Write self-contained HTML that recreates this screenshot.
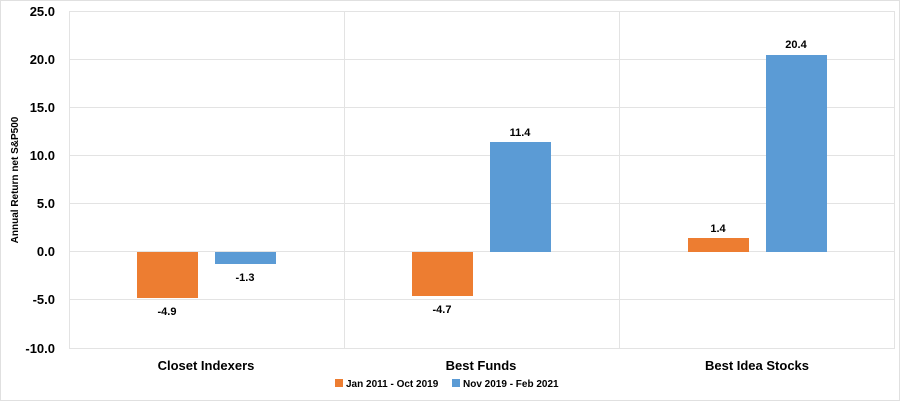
<!DOCTYPE html>
<html><head><style>
body{margin:0;background:#fff;}
svg text{font-family:"Liberation Sans",sans-serif;font-weight:bold;fill:#000;}
</style></head><body>
<svg width="900" height="401" viewBox="0 0 900 401" xmlns="http://www.w3.org/2000/svg">
<rect x="0.5" y="0.5" width="899" height="400" fill="#fff" stroke="#e0e0e0"/>
<g stroke="#e3e3e3" stroke-width="1">
<line x1="69" y1="11.5" x2="895" y2="11.5"/>
<line x1="69" y1="59.5" x2="895" y2="59.5"/>
<line x1="69" y1="107.5" x2="895" y2="107.5"/>
<line x1="69" y1="155.5" x2="895" y2="155.5"/>
<line x1="69" y1="203.5" x2="895" y2="203.5"/>
<line x1="69" y1="251.5" x2="895" y2="251.5"/>
<line x1="69" y1="299.5" x2="895" y2="299.5"/>
<line x1="69" y1="348.5" x2="895" y2="348.5"/>
<line x1="69.5" y1="11" x2="69.5" y2="348"/>
<line x1="344.5" y1="11" x2="344.5" y2="348"/>
<line x1="619.5" y1="11" x2="619.5" y2="348"/>
<line x1="894.5" y1="11" x2="894.5" y2="348"/>
</g>
<g font-size="13" text-anchor="end">
<text x="55" y="16">25.0</text>
<text x="55" y="64">20.0</text>
<text x="55" y="112">15.0</text>
<text x="55" y="160">10.0</text>
<text x="55" y="208">5.0</text>
<text x="55" y="256">0.0</text>
<text x="55" y="304">-5.0</text>
<text x="55" y="353">-10.0</text>
</g>
<text transform="translate(18,180) rotate(-90)" font-size="10" text-anchor="middle">Annual Return net S&amp;P500</text>
<rect x="137" y="252" width="61" height="46" fill="#ed7d31"/>
<rect x="215" y="252" width="61" height="12" fill="#5b9bd5"/>
<rect x="412" y="252" width="61" height="44" fill="#ed7d31"/>
<rect x="490" y="142" width="61" height="110" fill="#5b9bd5"/>
<rect x="688" y="238" width="61" height="14" fill="#ed7d31"/>
<rect x="766" y="55" width="61" height="197" fill="#5b9bd5"/>
<g font-size="11" text-anchor="middle">
<text x="167" y="315">-4.9</text>
<text x="245" y="281">-1.3</text>
<text x="442" y="313">-4.7</text>
<text x="520" y="136">11.4</text>
<text x="718" y="232">1.4</text>
<text x="796" y="48">20.4</text>
</g>
<g font-size="13" text-anchor="middle">
<text x="206" y="370">Closet Indexers</text>
<text x="481" y="370">Best Funds</text>
<text x="757" y="370">Best Idea Stocks</text>
</g>
<rect x="335" y="379" width="8" height="8" fill="#ed7d31"/>
<text x="346" y="387" font-size="10">Jan 2011 - Oct 2019</text>
<rect x="452" y="379" width="8" height="8" fill="#5b9bd5"/>
<text x="463" y="387" font-size="10">Nov 2019 - Feb 2021</text>
</svg>
</body></html>
